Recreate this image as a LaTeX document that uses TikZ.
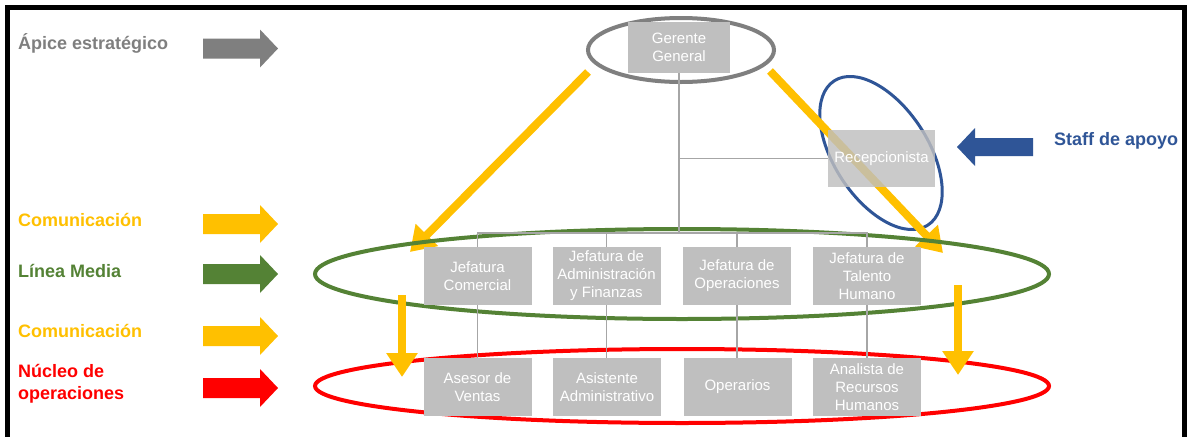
\documentclass[tikz,border=0pt]{standalone}
\usepackage{fontspec}
\setmainfont{Liberation Sans}
\usetikzlibrary{arrows.meta}
\definecolor{boxgray}{HTML}{BFBFBF}
\definecolor{linegray}{HTML}{A6A6A6}
\definecolor{apexgray}{HTML}{7F7F7F}
\definecolor{commyellow}{HTML}{FFC000}
\definecolor{midgreen}{HTML}{548235}
\definecolor{opred}{HTML}{FF0000}
\definecolor{staffblue}{HTML}{2F5597}
\newcommand\blockarrowright[3]{%
  \fill[#3] (#1,#2-10) -- (#1+57,#2-10) -- (#1+57,#2-19) -- (#1+75,#2) -- (#1+57,#2+19) -- (#1+57,#2+10) -- (#1,#2+10) -- cycle;}
\newcommand\blockarrowleft[3]{%
  \fill[#3] (#1,#2-9) -- (#1-58,#2-9) -- (#1-58,#2-19) -- (#1-76,#2) -- (#1-58,#2+19) -- (#1-58,#2+9) -- (#1,#2+9) -- cycle;}
\tikzset{
  orgbox/.style={fill=boxgray, text=white, font=\fontsize{15}{18}\selectfont, align=center, inner sep=0pt, minimum width=108pt, minimum height=58pt},
  sidelabel/.style={font=\bfseries\fontsize{18}{22}\selectfont, anchor=base west, align=left, inner sep=0pt},
  comm/.style={commyellow, line width=8pt, -{Triangle[width=30pt,length=24pt]}},
  orgline/.style={linegray, line width=1.3pt},
}
\begin{document}
\begin{tikzpicture}[x=1pt,y=-1pt]
\useasboundingbox (0,0) rectangle (1187,437);
\fill[white] (0,0) rectangle (1187,437);
% frame
\fill[black] (5,5) rectangle (1187,10);
\fill[black] (5,5) rectangle (10,437);
\fill[black] (1182,5) rectangle (1187,437);

% side labels
\node[sidelabel, text=apexgray] (lapex) at (18,49) {Ápice estratégico};
\node[sidelabel, text=commyellow] (lcom1) at (18,226) {Comunicación};
\node[sidelabel, text=midgreen] (lmid) at (18,277) {Línea Media};
\node[sidelabel, text=commyellow] (lcom2) at (18,337) {Comunicación};
\node[sidelabel, text=opred] (lnuc) at (18,399) {Núcleo de\\operaciones};
\node[sidelabel, text=staffblue] (lstaff) at (1054,145) {Staff de apoyo};

% block arrows
\blockarrowright{203}{48.5}{apexgray}
\blockarrowright{203}{224}{commyellow}
\blockarrowright{203}{274}{midgreen}
\blockarrowright{203}{336}{commyellow}
\blockarrowright{203}{388}{opred}
\blockarrowleft{1033}{147}{staffblue}

% ellipses
\draw[apexgray, line width=4pt] (681,50) ellipse [x radius=93pt, y radius=32pt];
\draw[staffblue, line width=3pt, rotate around={-57:(881,153)}] (881,153) ellipse [x radius=86pt, y radius=47pt];

% yellow diagonal arrows
\coordinate (dl0) at (588,72);
\coordinate (dl1) at (410,252);
\coordinate (dr0) at (770,71);
\coordinate (dr1) at (943,253);
\draw[comm] (dl0) -- (dl1);
\draw[comm] (dr0) -- (dr1);

\draw[midgreen, line width=4pt] (682,274) ellipse [x radius=367pt, y radius=45pt];
\draw[opred, line width=4pt] (682,386) ellipse [x radius=367pt, y radius=37pt];

% yellow vertical arrows
\coordinate (vl0) at (402,295);
\coordinate (vl1) at (402,377);
\coordinate (vr0) at (958,285);
\coordinate (vr1) at (958,375);
\draw[comm] (vl0) -- (vl1);
\draw[comm] (vr0) -- (vr1);

% boxes
\node[orgbox, minimum width=102pt, minimum height=51pt] (ger) at (679,47.5) {Gerente\\General};
\node[orgbox] (j1) at (477.5,276) {Jefatura\\Comercial};
\node[orgbox] (j2) at (606.5,276) {Jefatura de\\Administración\\y Finanzas};
\node[orgbox] (j3) at (737,276) {Jefatura de\\Operaciones};
\node[orgbox] (j4) at (867,276) {Jefatura de\\Talento\\Humano};
\node[orgbox] (b1) at (477.5,387) {Asesor de\\Ventas};
\node[orgbox] (b2) at (607,387) {Asistente\\Administrativo};
\node[orgbox] (b3) at (737.5,387) {Operarios};
\node[orgbox] (b4) at (867,387) {Analista de\\Recursos\\Humanos};

% connectors
\coordinate (bus) at (679,233);
\node[orgbox, minimum width=107pt, minimum height=57pt, fill opacity=0.82, text opacity=1] (rec) at (881.5,158.5) {Recepcionista};
\draw[orgline] (ger.south) -- (bus);
\draw[orgline] (ger.south |- rec.west) -- (rec.west);
\draw[orgline] (bus) -| (j1.north);
\draw[orgline] (bus) -| (j2.north);
\draw[orgline] (bus) -| (j3.north);
\draw[orgline] (bus) -| (j4.north);
\draw[orgline] (j1.south) -- (b1.north);
\draw[orgline] (j2.south) -- (j2.south |- b2.north);
\draw[orgline] (j3.south) -- (j3.south |- b3.north);
\draw[orgline] (j4.south) -- (b4.north);
\end{tikzpicture}
\end{document}
